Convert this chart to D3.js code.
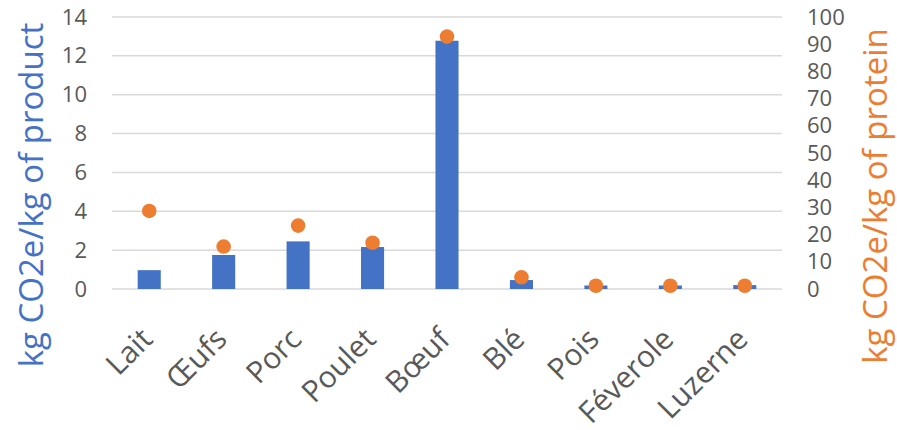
<!DOCTYPE html>
<html>
<head>
<meta charset="utf-8">
<script src="https://cdn.jsdelivr.net/npm/d3@7"></script>
<style>
  body { margin: 0; background: #fff; }
  svg { display: block; font-family: "Open Sans", "Segoe UI", sans-serif; }
</style>
</head>
<body>
<svg id="chart" width="897" height="430"></svg>
<script>
// Emissions per kg of product (bars, left axis) and per kg of protein (dots, right axis)
const categories = ["Lait", "Œufs", "Porc", "Poulet", "Bœuf", "Blé", "Pois", "Féverole", "Luzerne"];
const perProduct = [0.97, 1.75, 2.45, 2.16, 12.78, 0.46, 0.18, 0.18, 0.2];
const perProtein = [28.7, 15.6, 23.3, 17.0, 92.8, 4.3, 1.2, 1.2, 1.2];
const leftTicks = [0, 2, 4, 6, 8, 10, 12, 14];
const rightTicks = [0, 10, 20, 30, 40, 50, 60, 70, 80, 90, 100];

const svg = d3.select("#chart");
const plot = { left: 112, right: 782, top: 17, bottom: 289 };

const x = d3.scaleBand().domain(categories).range([plot.left, plot.right]).paddingInner(0.69).paddingOuter(0.345);
const yL = d3.scaleLinear().domain([0, 14]).range([plot.bottom, plot.top]);
const yR = d3.scaleLinear().domain([0, 100]).range([plot.bottom, plot.top]);

// gridlines
svg.append("g").selectAll("line").data(leftTicks).join("line")
  .attr("x1", plot.left).attr("x2", plot.right)
  .attr("y1", d => yL(d)).attr("y2", d => yL(d))
  .attr("stroke", "#D9D9D9").attr("stroke-width", 1.5);

// left axis labels
const axL = svg.append("g").attr("transform", `translate(${plot.left - 25},0)`)
  .call(d3.axisLeft(yL).tickValues(leftTicks).tickSize(0).tickPadding(0));
axL.select(".domain").remove();
axL.selectAll("text").attr("font-size", 22).attr("fill", "#595959").attr("font-family", "Open Sans");

// right axis labels
const axR = svg.append("g").attr("transform", `translate(${plot.right + 25},0)`)
  .call(d3.axisRight(yR).tickValues(rightTicks).tickSize(0).tickPadding(0));
axR.select(".domain").remove();
axR.selectAll("text").attr("font-size", 22).attr("fill", "#595959").attr("font-family", "Open Sans");

// bars
svg.append("g").selectAll("rect").data(categories).join("rect")
  .attr("x", d => x(d)).attr("width", x.bandwidth())
  .attr("y", (d, i) => yL(perProduct[i]))
  .attr("height", (d, i) => yL(0) - yL(perProduct[i]))
  .attr("fill", "#4472C4");

// dots
svg.append("g").selectAll("circle").data(categories).join("circle")
  .attr("cx", d => x(d) + x.bandwidth() / 2)
  .attr("cy", (d, i) => yR(perProtein[i]))
  .attr("r", 7.3)
  .attr("fill", "#ED7D31");

// category labels, rotated 45°
svg.append("g").selectAll("text").data(categories).join("text")
  .attr("transform", d => `translate(${x(d) + x.bandwidth() / 2 + 5},341) rotate(-45)`)
  .attr("text-anchor", "end")
  .attr("font-size", 30)
  .attr("fill", "#595959")
  .text(d => d);

// axis titles
svg.append("text")
  .attr("transform", "translate(43,195) rotate(-90)")
  .attr("text-anchor", "middle")
  .attr("font-size", 33)
  .attr("fill", "#4472C4")
  .text("kg CO2e/kg of product");

svg.append("text")
  .attr("transform", "translate(887,196) rotate(-90)")
  .attr("text-anchor", "middle")
  .attr("font-size", 33)
  .attr("fill", "#ED7D31")
  .text("kg CO2e/kg of protein");
</script>
</body>
</html>
